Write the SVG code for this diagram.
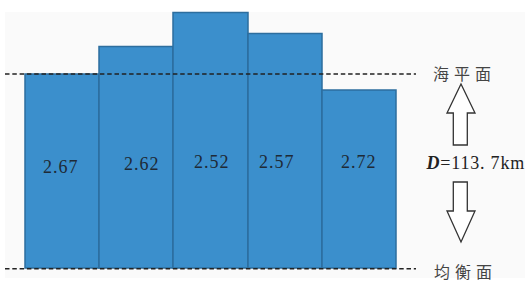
<svg xmlns="http://www.w3.org/2000/svg" width="529" height="284" viewBox="0 0 529 284">
<style>
.bar{fill:#3b8fcc;stroke:#2d6e9e;stroke-width:1.5}
.val{font-family:"Liberation Serif","Times New Roman",serif;font-size:18px;fill:#1e2a36;letter-spacing:1px}
.cjk{font-family:"Noto Sans CJK SC","Noto Sans CJK JP",sans-serif;font-size:16px;fill:#444;letter-spacing:5px}
.dash{stroke:#222;stroke-width:1.6;stroke-dasharray:4.5 2.8;fill:none}
.arr{fill:#fff;stroke:#333;stroke-width:1.3;stroke-linejoin:miter}
.dlab{font-family:"Liberation Serif","Times New Roman",serif;font-size:18px;fill:#222;letter-spacing:0.8px}
</style>
<rect x="0" y="0" width="529" height="284" fill="#ffffff"/>
<rect x="5" y="12" width="520" height="266" fill="#fafafa"/>
<g id="bar1"><rect class="bar" x="25" y="74" width="74" height="194"/><text class="val" x="43" y="172.5">2.67</text></g>
<g id="bar2"><rect class="bar" x="99" y="46.5" width="74" height="221.5"/><text class="val" x="124" y="170.3">2.62</text></g>
<g id="bar3"><rect class="bar" x="173" y="12.5" width="75" height="255.5"/><text class="val" x="194" y="167.7">2.52</text></g>
<g id="bar4"><rect class="bar" x="248" y="33.5" width="74" height="234.5"/><text class="val" x="259" y="167.5">2.57</text></g>
<g id="bar5"><rect class="bar" x="322" y="90" width="74" height="178"/><text class="val" x="341" y="167.5">2.72</text></g>
<g id="sea-level"><line class="dash" x1="5" y1="74" x2="416" y2="74"/><text class="cjk" x="433" y="80">海平面</text></g>
<g id="compensation-level"><line class="dash" x1="5" y1="268.7" x2="416" y2="268.7"/><text class="cjk" x="434" y="278">均衡面</text></g>
<g id="depth-label"><text class="dlab" x="426.5" y="169"><tspan font-style="italic" font-weight="bold">D</tspan>=113. 7km</text></g>
<g id="connectors">
<polygon class="arr" points="461,84 475,113 467.3,113 467.3,145 453.3,145 453.3,113 447,113"/>
<polygon class="arr" points="453.3,182 467.3,182 467.3,211 475,211 461,242 447,211 453.3,211"/>
</g>
</svg>
